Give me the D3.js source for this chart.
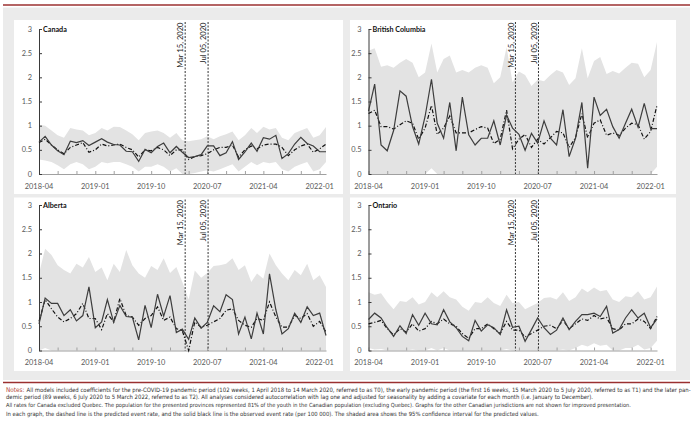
<!DOCTYPE html>
<html><head><meta charset="utf-8">
<script src="https://cdn.jsdelivr.net/npm/d3@7"></script>
<style>html,body{margin:0;padding:0;background:#fff;}svg{display:block;}</style>
</head><body>
<svg id="chart" width="698" height="439"></svg>
<script>
// ---------- DATA ----------
const startMonth = new Date(2018, 3, 1);
const endMonth = new Date(2022, 1, 1);
const xTickLabels = ["2018-04", "2019-01", "2019-10", "2020-07", "2021-04", "2022-01"];
const yTicks = [0, 0.5, 1, 1.5, 2, 2.5, 3];
const eventLines = [{label: "Mar 15, 2020", date: "2020-03-15"}, {label: "Jul 05, 2020", date: "2020-07-05"}];
const panelNames = ["Canada", "British Columbia", "Alberta", "Ontario"];

const canadaObserved = [0.66,0.78,0.6,0.48,0.4,0.68,0.65,0.69,0.59,0.66,0.73,0.66,0.61,0.6,0.47,0.46,0.26,0.51,0.44,0.57,0.64,0.44,0.57,0.45,0.34,0.36,0.4,0.58,0.58,0.38,0.44,0.67,0.3,0.46,0.64,0.47,0.75,0.72,0.8,0.32,0.42,0.62,0.76,0.63,0.58,0.46,0.46];
const canadaPredicted = [0.65,0.72,0.6,0.5,0.42,0.55,0.6,0.65,0.45,0.5,0.62,0.58,0.6,0.62,0.55,0.5,0.35,0.5,0.48,0.55,0.5,0.38,0.5,0.5,0.3,0.36,0.38,0.42,0.5,0.55,0.55,0.6,0.35,0.5,0.58,0.52,0.6,0.62,0.62,0.55,0.38,0.5,0.58,0.62,0.45,0.52,0.62];
const canadaLower = [0.3,0.28,0.25,0.18,0.1,0.2,0.25,0.2,0.1,0.15,0.25,0.22,0.25,0.25,0.2,0.15,0.05,0.15,0.15,0.2,0.15,0.05,0.12,0,0,0.02,0.05,0.08,0.05,0.1,0.15,0.2,0.05,0.15,0.25,0.18,0.25,0.22,0.25,0.1,0.05,0.15,0.2,0.25,0.05,0.1,0.25];
const canadaUpper = [1.02,1.0,0.9,0.8,0.75,0.95,0.92,0.9,0.8,0.85,0.95,0.9,0.98,0.97,0.9,0.82,0.7,0.85,0.88,0.9,0.85,0.75,0.85,0.7,0.68,0.7,0.72,0.78,0.72,0.78,0.82,0.88,0.7,0.8,0.95,0.85,0.98,0.92,0.95,0.75,0.7,0.85,0.9,0.95,0.75,0.8,0.97];

const bcObserved = [1.3,1.86,0.6,0.48,0.9,1.72,1.61,0.98,0.62,1.19,1.96,1.05,0.74,1.48,0.48,1.59,0.81,0.6,0.74,0.74,1.1,0.6,1.22,0.95,0.82,0.49,0.84,0.64,1.1,0.74,0.6,1.33,0.36,0.74,1.48,0.12,1.59,1.21,1.34,0.98,0.74,1.05,1.34,0.97,1.46,0.94,0.94];
const bcPredicted = [1.25,1.32,0.98,0.98,0.93,1.02,1.1,1.05,0.72,0.95,1.42,0.82,0.95,1.2,0.85,0.85,0.85,0.92,0.98,0.95,0.63,0.72,1.32,0.52,0.72,0.82,0.55,0.72,0.62,0.75,0.88,0.85,0.55,0.75,1.25,0.75,1.05,1.12,0.8,0.85,0.8,0.95,1.05,1.02,0.72,0.88,1.42];
const bcLower = [0,0,0,0,0,0,0,0,0,0,0.12,0,0,0,0,0,0,0,0,0,0,0,0,0,0,0,0,0,0,0,0,0,0,0,0,0,0,0,0,0,0,0,0,0,0,0,0.15];
const bcUpper = [2.55,2.6,2.22,2.25,2.2,2.3,2.38,2.3,2.0,2.1,2.7,2.1,2.38,2.45,2.1,2.15,2.1,2.2,2.25,2.2,1.88,2.0,2.62,1.9,2.12,2.05,1.82,1.95,1.92,2.05,2.15,2.1,1.84,1.98,2.6,1.98,2.34,2.42,2.07,2.13,2.08,2.2,2.3,2.28,2.0,2.15,2.73];

const albertaObserved = [0.55,1.08,0.97,0.97,0.72,0.84,0.61,0.72,1.31,0.47,0.59,1.05,0.58,0.93,0.7,0.69,0.22,0.93,0.47,1.16,0.71,1.13,0.37,0.44,0.23,0.67,0.46,0.58,0.92,0.8,1.15,1.05,0.34,0.69,0.24,0.77,0.34,1.58,0.84,0.34,0.45,0.77,0.58,0.9,0.72,0.77,0.31];
const albertaPredicted = [0.6,1.05,0.86,0.69,0.59,0.66,0.76,0.97,0.66,0.66,0.43,0.76,0.59,1.07,0.72,0.69,0.52,0.66,0.72,0.9,0.62,0.69,0.45,0.41,0.0,0.59,0.48,0.52,0.59,0.66,0.83,0.86,0.62,0.52,0.48,0.66,0.62,1.0,0.69,0.48,0.48,0.72,0.66,0.76,0.5,0.6,0.38];
const albertaLower = [0,0.05,0,0,0,0,0,0,0,0,0,0,0,0,0,0,0,0,0,0,0,0,0,0,0,0,0,0,0,0,0,0,0,0,0,0,0,0,0,0,0,0,0,0,0,0,0];
const albertaUpper = [1.59,2.1,1.97,1.76,1.66,1.59,1.79,1.71,1.93,1.62,1.71,1.45,1.79,1.62,2.07,1.76,1.59,1.5,1.74,1.66,1.9,1.6,1.72,1.41,1.05,1.65,1.5,1.6,1.74,1.76,1.79,1.9,1.66,1.76,1.41,1.59,1.48,2.0,1.76,1.59,1.45,1.66,1.55,1.79,1.45,1.55,1.31];

const ontarioObserved = [0.64,0.77,0.67,0.47,0.29,0.51,0.35,0.74,0.52,0.77,0.55,0.53,0.84,0.59,0.47,0.29,0.2,0.62,0.4,0.53,0.47,0.33,0.84,0.48,0.5,0.19,0.43,0.67,0.47,0.33,0.42,0.67,0.43,0.6,0.74,0.74,0.77,0.7,0.91,0.36,0.43,0.67,0.84,0.67,0.77,0.47,0.65];
const ontarioPredicted = [0.55,0.58,0.62,0.45,0.32,0.45,0.38,0.55,0.4,0.45,0.6,0.55,0.65,0.55,0.5,0.35,0.25,0.45,0.45,0.55,0.45,0.35,0.6,0.42,0.42,0.28,0.35,0.42,0.5,0.52,0.45,0.62,0.45,0.55,0.65,0.62,0.72,0.65,0.68,0.45,0.42,0.55,0.55,0.65,0.6,0.45,0.7];
const ontarioLower = [0.05,0.02,0.03,0,0,0,0,0.02,0,0,0.05,0,0.05,0,0,0,0,0,0,0,0,0,0.03,0,0,0,0,0,0,0,0,0.02,0,0.05,0.12,0.08,0.15,0.1,0.12,0,0,0.05,0.05,0.12,0.02,0.05,0.2];
const ontarioUpper = [1.2,1.15,1.18,1.0,0.85,1.02,1.0,1.1,0.95,1.0,1.2,1.1,1.22,1.1,1.05,0.9,0.82,1.0,0.98,1.1,0.98,0.92,1.15,0.98,1.0,0.85,0.92,0.98,1.08,1.1,1.05,1.2,1.02,1.1,1.28,1.2,1.3,1.22,1.25,1.05,1.0,1.12,1.1,1.22,1.05,1.1,1.32];

const noteLabel = "Notes:";
const noteLines = [
  "All models included coefficients for the pre-COVID-19 pandemic period (102 weeks, 1 April 2018 to 14 March 2020, referred to as T0), the early pandemic period (the first 16 weeks, 15 March 2020 to 5 July 2020, referred to as T1) and the later pan-",
  "demic period (89 weeks, 6 July 2020 to 5 March 2022, referred to as T2). All analyses considered autocorrelation with lag one and adjusted for seasonality by adding a covariate for each month (i.e. January to December).",
  "All rates for Canada excluded Quebec. The population for the presented provinces represented 81% of the youth in the Canadian population (excluding Quebec). Graphs for the other Canadian jurisdictions are not shown for improved presentation.",
  "In each graph, the dashed line is the predicted event rate, and the solid black line is the observed event rate (per 100 000). The shaded area shows the 95% confidence interval for the predicted values."
];

// ---------- LAYOUT ----------
const months = d3.timeMonth.range(startMonth, d3.timeMonth.offset(endMonth, 1));
const parse = d3.timeParse("%Y-%m");
const parseDay = d3.timeParse("%Y-%m-%d");

const panels = [
  {name: panelNames[0], obs: canadaObserved, pred: canadaPredicted, lo: canadaLower, hi: canadaUpper,
   box: [14, 20, 329, 174], xr: [39, 326], yr: [174, 29]},
  {name: panelNames[1], obs: bcObserved, pred: bcPredicted, lo: bcLower, hi: bcUpper,
   box: [350, 20, 326, 174], xr: [368.5, 657], yr: [174, 29]},
  {name: panelNames[2], obs: albertaObserved, pred: albertaPredicted, lo: albertaLower, hi: albertaUpper,
   box: [14, 197.5, 329, 173.5], xr: [39, 326], yr: [350.5, 205]},
  {name: panelNames[3], obs: ontarioObserved, pred: ontarioPredicted, lo: ontarioLower, hi: ontarioUpper,
   box: [350, 197.5, 326, 173.5], xr: [368.5, 657], yr: [350.5, 205]}
];

const svg = d3.select("#chart");
const AXFONT = "Lato, 'Open Sans', sans-serif";

// outer frame
svg.append("rect").attr("x", 3).attr("y", 7.5).attr("width", 687).attr("height", 372.5).attr("fill", "#ebebeb");
svg.append("line").attr("x1", 3).attr("x2", 690).attr("y1", 5).attr("y2", 5).attr("stroke", "#9b3030").attr("stroke-width", 1.6);
svg.append("line").attr("x1", 3).attr("x2", 690).attr("y1", 382.5).attr("y2", 382.5).attr("stroke", "#9b3030").attr("stroke-width", 1.6);

panels.forEach(p => {
  const g = svg.append("g");
  g.append("rect").attr("x", p.box[0]).attr("y", p.box[1]).attr("width", p.box[2]).attr("height", p.box[3]).attr("fill", "#fff");

  const x = d3.scaleTime().domain([startMonth, endMonth]).range(p.xr);
  const y = d3.scaleLinear().domain([0, 3]).range(p.yr);
  const rows = months.map((d, i) => ({d, obs: p.obs[i], pred: p.pred[i], lo: p.lo[i], hi: p.hi[i]}));

  // CI band
  g.append("path").datum(rows)
    .attr("d", d3.area().x(r => x(r.d)).y0(r => y(r.lo)).y1(r => y(r.hi)))
    .attr("fill", "#e3e3e3");

  // x axis
  const xAxis = d3.axisBottom(x)
    .tickValues(d3.timeMonth.every(3).range(startMonth, d3.timeMonth.offset(endMonth, 1)))
    .tickSizeInner(-3).tickSizeOuter(0).tickFormat("");
  const gx = g.append("g").attr("transform", `translate(0,${y(0)})`).call(xAxis);
  gx.select(".domain").attr("stroke", "#a0a0a0").attr("stroke-width", 1.2);
  gx.selectAll(".tick line").attr("stroke", "#a0a0a0");
  g.selectAll(".xl").data(xTickLabels).enter().append("text")
    .attr("x", d => x(parse(d))).attr("y", y(0) + 14.5)
    .attr("text-anchor", "middle").attr("font-family", AXFONT).attr("font-size", 7.4)
    .attr("fill", "#595959").text(d => d);

  // y axis
  const yAxis = d3.axisLeft(y).tickValues(yTicks).tickSizeInner(-3).tickSizeOuter(0).tickFormat("");
  const gy = g.append("g").attr("transform", `translate(${p.xr[0]},0)`).call(yAxis);
  gy.select(".domain").attr("stroke", "#3a3a3a").attr("stroke-width", 1);
  gy.selectAll(".tick line").attr("stroke", "#3a3a3a");
  g.selectAll(".yl").data(yTicks).enter().append("text")
    .attr("x", p.xr[0] - 7).attr("y", d => y(d) + 2.6)
    .attr("text-anchor", "end").attr("font-family", AXFONT).attr("font-size", 7.4)
    .attr("fill", "#595959").text(d => d3.format("")(d));

  // title
  g.append("text").attr("x", p.xr[0] + 4).attr("y", y(3) + 2.6)
    .attr("font-family", AXFONT).attr("font-weight", "bold").attr("font-size", 7.2)
    .attr("fill", "#111").text(p.name);

  // event lines
  eventLines.forEach(ev => {
    const ex = x(parseDay(ev.date));
    g.append("line").attr("x1", ex).attr("x2", ex).attr("y1", p.box[1] + 2).attr("y2", y(0))
      .attr("stroke", "#333").attr("stroke-width", 1).attr("stroke-dasharray", "2,1.5");
    g.append("text").attr("transform", `translate(${ex - 1.8},${p.box[1] + 2.5}) rotate(-90)`)
      .attr("text-anchor", "end").attr("font-family", AXFONT).attr("font-size", 7.6)
      .attr("fill", "#222").text(ev.label);
  });

  // predicted (dash-dot)
  g.append("path").datum(rows)
    .attr("d", d3.line().x(r => x(r.d)).y(r => y(r.pred)))
    .attr("fill", "none").attr("stroke", "#111").attr("stroke-width", 1.2)
    .attr("stroke-dasharray", "4,2,1,2");
  // observed (solid)
  g.append("path").datum(rows)
    .attr("d", d3.line().x(r => x(r.d)).y(r => y(r.obs)))
    .attr("fill", "none").attr("stroke", "#3d3d3d").attr("stroke-width", 1.2);
});

// notes: font size fitted so each line's natural width matches its span
const NOTEFONT = "'Liberation Sans Narrow', 'DejaVu Sans Condensed', 'Open Sans', sans-serif";
const noteY = [392, 398.7, 407.3, 415.8];
const noteEnds = [691, 593, 630, 539];
const baseSize = 6.4;
const lbl = svg.append("text").attr("x", 6).attr("y", noteY[0])
  .attr("font-family", NOTEFONT).attr("font-size", baseSize).attr("fill", "#b5473a").text(noteLabel);
const lblW = lbl.node().getComputedTextLength();
noteLines.forEach((t, i) => {
  const x0 = i === 0 ? 6 + lblW + 2 : 6;
  const txt = svg.append("text").attr("x", x0).attr("y", noteY[i])
    .attr("font-family", NOTEFONT).attr("font-size", baseSize).attr("fill", "#333").text(t);
  const w = txt.node().getComputedTextLength();
  const target = noteEnds[i] - x0;
  const fs = Math.min(baseSize * 1.15, baseSize * target / w);
  txt.attr("font-size", fs);
  const w2 = txt.node().getComputedTextLength();
  if (Math.abs(w2 - target) > 1) txt.attr("textLength", target).attr("lengthAdjust", "spacing");
});
</script>
</body></html>
